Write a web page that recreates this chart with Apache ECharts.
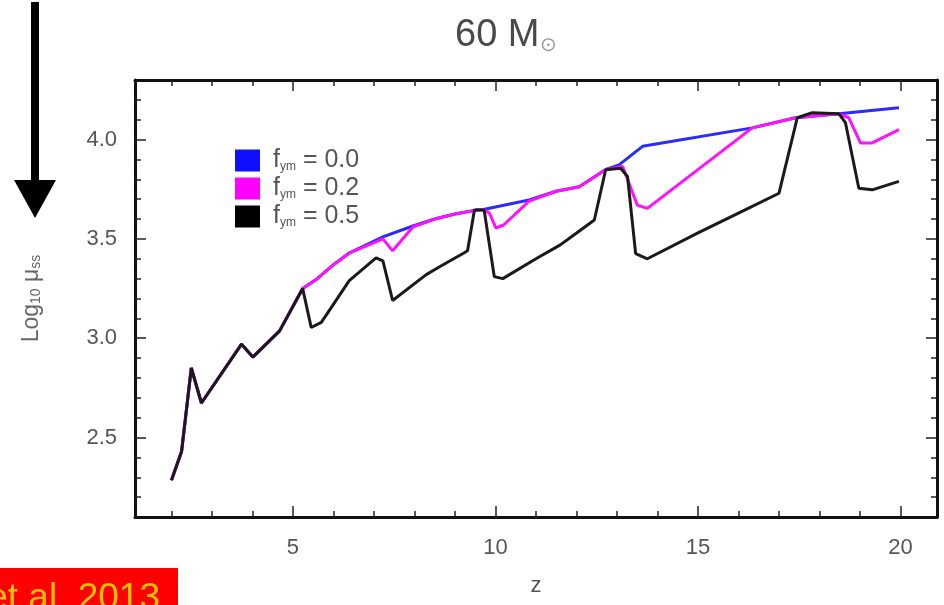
<!DOCTYPE html>
<html><head><meta charset="utf-8">
<script src="https://cdn.jsdelivr.net/npm/echarts@6/dist/echarts.min.js"></script>
<style>html,body{margin:0;padding:0;background:#fff}#c{width:944px;height:605px}</style>
</head><body><div id="c"></div>
<script>
// ---- data ----
const legendValues = ['0.0', '0.2', '0.5'];

const zF00 = [2.0, 2.25, 2.49, 2.74, 3.73, 4.01, 4.67, 5.24, 5.6, 6.0, 6.4, 7.22, 7.96, 8.5, 9.0, 9.52, 9.7, 10.83, 11.5, 12.07, 12.72, 13.05, 13.63, 16.34, 17.41, 18.48, 19.96];
const vF00 = [2.285, 2.43, 2.85, 2.674, 2.97, 2.905, 3.037, 3.25, 3.30, 3.37, 3.43, 3.51, 3.565, 3.60, 3.625, 3.645, 3.648, 3.696, 3.74, 3.763, 3.85, 3.873, 3.966, 4.059, 4.11, 4.13, 4.16];

const zF02 = [2.0, 2.25, 2.49, 2.74, 3.73, 4.01, 4.67, 5.24, 5.6, 6.0, 6.4, 7.22, 7.46, 7.96, 8.5, 9.0, 9.52, 9.7, 9.85, 10.01, 10.2, 10.83, 11.5, 12.07, 12.72, 13.14, 13.5, 13.75, 16.34, 17.41, 18.48, 18.72, 19.01, 19.30, 19.96];
const vF02 = [2.285, 2.43, 2.85, 2.674, 2.97, 2.905, 3.037, 3.25, 3.30, 3.37, 3.43, 3.50, 3.44, 3.56, 3.60, 3.625, 3.645, 3.648, 3.63, 3.555, 3.57, 3.69, 3.74, 3.763, 3.85, 3.865, 3.67, 3.654, 4.059, 4.11, 4.13, 4.11, 3.983, 3.983, 4.05];

const zF05 = [2.0, 2.25, 2.49, 2.74, 3.73, 4.01, 4.67, 5.24, 5.45, 5.70, 6.39, 7.05, 7.22, 7.46, 8.29, 8.62, 9.23, 9.31, 9.48, 9.72, 9.97, 10.18, 11.0, 11.6, 12.07, 12.44, 12.72, 13.09, 13.26, 13.46, 13.75, 15.0, 16.2, 17.0, 17.45, 17.82, 18.48, 18.64, 18.97, 19.30, 19.96];
const vF05 = [2.285, 2.43, 2.85, 2.674, 2.97, 2.905, 3.037, 3.25, 3.054, 3.08, 3.29, 3.405, 3.39, 3.19, 3.32, 3.36, 3.43, 3.44, 3.645, 3.645, 3.31, 3.30, 3.40, 3.47, 3.54, 3.595, 3.848, 3.856, 3.814, 3.426, 3.40, 3.53, 3.65, 3.73, 4.11, 4.135, 4.13, 4.085, 3.755, 3.747, 3.79];

const xMajorTicks = [5, 10, 15, 20];
const xMinorTicks = [2, 3, 4, 5, 6, 7, 8, 9, 10, 11, 12, 13, 14, 15, 16, 17, 18, 19, 20];
const yMajorTicks = [2.5, 3.0, 3.5, 4.0];
const yMinorTicks = [2.2, 2.3, 2.4, 2.5, 2.6, 2.7, 2.8, 2.9, 3.0, 3.1, 3.2, 3.3, 3.4, 3.5, 3.6, 3.7, 3.8, 3.9, 4.0, 4.1, 4.2];
const xRange = [1.1, 20.9];
const yRange = [2.1, 4.3];

// ---- chart ----
const zip = (a, b) => a.map((x, i) => [x, b[i]]);
const names = legendValues.map(v => 'f_ym = ' + v);
const FONT = '"Liberation Sans", Arial, sans-serif';
const GRAY = '#555';

function xAx(pos, ticks, len, line, labels, extra) {
  return Object.assign({
    type: 'value', position: pos, min: xRange[0], max: xRange[1],
    axisLine: {show: line, onZero: false, lineStyle: {color: '#111', width: 3}},
    axisTick: {show: true, inside: true, length: len, customValues: ticks, lineStyle: {color: '#222', width: 1.5}},
    axisLabel: labels ? {show: true, customValues: ticks, margin: 20, fontSize: 22, color: GRAY, fontFamily: FONT} : {show: false},
    splitLine: {show: false}
  }, extra || {});
}
function yAx(pos, ticks, len, line, labels, extra) {
  return Object.assign({
    type: 'value', position: pos, min: yRange[0], max: yRange[1],
    axisLine: {show: line, onZero: false, lineStyle: {color: '#111', width: 3}},
    axisTick: {show: true, inside: true, length: len, customValues: ticks, lineStyle: {color: '#222', width: 1.5}},
    axisLabel: labels ? {show: true, customValues: ticks, margin: 18, fontSize: 22, color: GRAY, fontFamily: FONT,
      formatter: v => Number(v).toFixed(1)} : {show: false},
    splitLine: {show: false}
  }, extra || {});
}

const chart = echarts.init(document.getElementById('c'), null, {renderer: 'canvas'});
chart.setOption({
  animation: false,
  backgroundColor: '#fff',
  title: {
    text: '{a|60 M}{b|⊙}',
    left: 450, top: 4,
    textStyle: {
      fontWeight: 'normal',
      rich: {
        a: {fontSize: 38, color: '#4a4a4a', fontFamily: FONT, fontWeight: 'normal', lineHeight: 46, verticalAlign: 'bottom'},
        b: {fontSize: 20, color: '#999', fontFamily: FONT, fontWeight: 'normal', verticalAlign: 'bottom', padding: [0, 0, 0, 1]}
      }
    }
  },
  legend: {
    orient: 'vertical', left: 235, top: 148, padding: 0,
    itemWidth: 25, itemHeight: 22, itemGap: 3, icon: 'rect',
    data: names,
    formatter: n => '{m|f}{s|ym}{m| = ' + n.split('= ')[1] + '}',
    textStyle: {
      padding: [0, 0, 0, 8],
      rich: {
        m: {fontSize: 25, color: GRAY, fontFamily: FONT},
        s: {fontSize: 12, color: GRAY, fontFamily: FONT, verticalAlign: 'bottom', padding: [9, 0, 0, 0]}
      }
    }
  },
  grid: {left: 135, right: 7, top: 80, bottom: 88},
  xAxis: [
    xAx('bottom', xMajorTicks, 11, true, true, {
      name: 'z', nameLocation: 'middle', nameGap: 58,
      nameTextStyle: {fontSize: 22, color: GRAY, fontFamily: FONT}
    }),
    xAx('bottom', xMinorTicks, 6, false, false),
    xAx('top', xMajorTicks, 11, true, false),
    xAx('top', xMinorTicks, 6, false, false)
  ],
  yAxis: [
    yAx('left', yMajorTicks, 11, true, true, {
      name: '{a|Log}{s|10}{a| μ}{s|ss}', nameLocation: 'middle', nameGap: 92, nameRotate: 90,
      nameTextStyle: {rich: {
        a: {fontSize: 23, color: '#666', fontFamily: FONT},
        s: {fontSize: 14, color: '#666', fontFamily: FONT, verticalAlign: 'bottom', padding: [8, 0, 0, 0]}
      }}
    }),
    yAx('left', yMinorTicks, 6, false, false),
    yAx('right', yMajorTicks, 11, true, false),
    yAx('right', yMinorTicks, 6, false, false)
  ],
  series: [
    {name: names[0], type: 'line', data: zip(zF00, vF00), showSymbol: false, symbol: 'none', z: 2,
      color: '#1010ff', lineStyle: {color: '#2a2aff', width: 3}},
    {name: names[1], type: 'line', data: zip(zF02, vF02), showSymbol: false, symbol: 'none', z: 3,
      color: '#ff00ff', lineStyle: {color: '#ff10ff', width: 3}},
    {name: names[2], type: 'line', data: zip(zF05, vF05), showSymbol: false, symbol: 'none', z: 4,
      color: '#000', lineStyle: {color: '#1a1a1a', width: 3}}
  ],
  graphic: [
    {type: 'rect', shape: {x: 31, y: 2, width: 8, height: 182}, style: {fill: '#000'}},
    {type: 'polygon', shape: {points: [[14, 180], [56, 180], [35, 218]]}, style: {fill: '#000'}},
    {type: 'rect', shape: {x: -2, y: 568, width: 180, height: 40}, style: {fill: '#ff0000'}},
    {type: 'text', style: {x: 160, y: 580, text: 'et al. 2013', textAlign: 'right', textVerticalAlign: 'top',
      fontSize: 37, fontFamily: FONT, fill: '#ffc000'}}
  ]
});
</script>
</body></html>
